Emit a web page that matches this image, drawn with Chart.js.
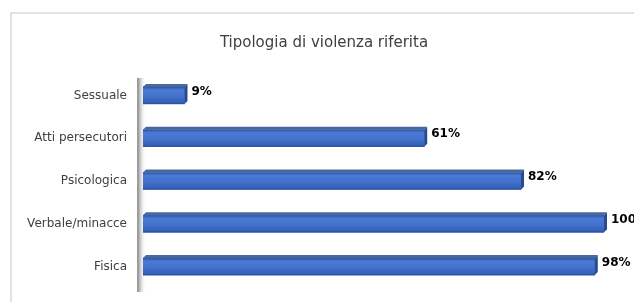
<!DOCTYPE html>
<html>
<head>
<meta charset="utf-8">
<script src="https://cdn.jsdelivr.net/npm/chart.js@4/dist/chart.umd.min.js"></script>
<style>
  html, body { margin: 0; padding: 0; background: #fff; }
  #wrap { width: 634px; height: 302px; position: relative; }
</style>
</head>
<body>
<div id="wrap"><canvas id="chart"></canvas></div>
<script>
// chart data
const categories = ['Sessuale', 'Atti persecutori', 'Psicologica', 'Verbale/minacce', 'Fisica'];
const percentValues = [9, 61, 82, 100, 98];
const chartTitle = 'Tipologia di violenza riferita';

const fontFamily = "'Comic Sans MS', 'DejaVu Sans', sans-serif";
const depth = 3;

// frame, title, wall and 3D faces of the bars
const decorPlugin = {
    id: 'decor',
    beforeDraw(chart) {
        const c = chart.ctx;
        const a = chart.chartArea;
        c.save();
        c.strokeStyle = '#d9d9d9';
        c.lineWidth = 1.5;
        c.strokeRect(11, 13, 640, 300);
        // title, centred on the frame
        c.fillStyle = '#404040';
        c.font = '15px ' + fontFamily;
        c.textAlign = 'center';
        c.textBaseline = 'middle';
        c.fillText(chartTitle, 324, 43);
        // wall
        const g = c.createLinearGradient(a.left - 5, 0, a.left + 3, 0);
        g.addColorStop(0, 'rgba(110,110,110,0.75)');
        g.addColorStop(1, 'rgba(255,255,255,0)');
        c.fillStyle = g;
        c.fillRect(a.left - 5, a.top + 4, 8, a.bottom - a.top);
        c.strokeStyle = '#9a9a9a';
        c.lineWidth = 1;
        c.beginPath();
        c.moveTo(a.left - 5.5, a.top + 4);
        c.lineTo(a.left - 5.5, a.bottom + 4);
        c.stroke();
        c.restore();
    },
    afterDatasetsDraw(chart) {
        const c = chart.ctx;
        const meta = chart.getDatasetMeta(0);
        c.save();
        meta.data.forEach((bar, i) => {
            const h = bar.height;
            const top = bar.y - h / 2;
            const bottom = bar.y + h / 2;
            const left = bar.base;
            const right = bar.x;
            const g = c.createLinearGradient(0, top, 0, bottom);
            g.addColorStop(0, '#2c539e');
            g.addColorStop(0.18, '#4b7bd4');
            g.addColorStop(0.55, '#4372cc');
            g.addColorStop(0.9, '#3561b8');
            g.addColorStop(1, '#284c94');
            c.fillStyle = g;
            c.fillRect(left, top, right - left, h);
            // top face
            c.fillStyle = '#47689f';
            c.beginPath();
            c.moveTo(left, top);
            c.lineTo(left + depth, top - depth);
            c.lineTo(right + depth, top - depth);
            c.lineTo(right, top);
            c.closePath();
            c.fill();
            // right face
            c.fillStyle = '#284a8f';
            c.beginPath();
            c.moveTo(right, top);
            c.lineTo(right + depth, top - depth);
            c.lineTo(right + depth, bottom - depth);
            c.lineTo(right, bottom);
            c.closePath();
            c.fill();
            // value label
            c.fillStyle = '#000';
            c.font = 'bold 12px ' + fontFamily;
            c.textAlign = 'left';
            c.textBaseline = 'middle';
            c.fillText(percentValues[i] + '%', right + depth + 4, bar.y - 4);
        });
        c.restore();
    }
};

new Chart(document.getElementById('chart'), {
    type: 'bar',
    data: {
        labels: categories,
        datasets: [{
            data: percentValues,
            backgroundColor: '#4372cc',
            borderWidth: 0,
            barThickness: 17
        }]
    },
    options: {
        indexAxis: 'y',
        responsive: true,
        maintainAspectRatio: false,
        animation: false,
        layout: { padding: { top: 74, left: 11, right: 30, bottom: 14 } },
        plugins: {
            legend: { display: false },
            tooltip: { enabled: false },
            title: { display: false }
        },
        scales: {
            x: { display: false, min: 0, max: 100 },
            y: {
                grid: { display: false, drawTicks: false },
                border: { display: false },
                ticks: {
                    color: '#404040',
                    padding: 16,
                    font: { family: fontFamily, size: 12 }
                },
                afterFit(scale) {
                    scale.width = 132;
                    scale.paddingTop = 0;
                    scale.paddingBottom = 0;
                }
            }
        }
    },
    plugins: [decorPlugin]
});
</script>
</body>
</html>
